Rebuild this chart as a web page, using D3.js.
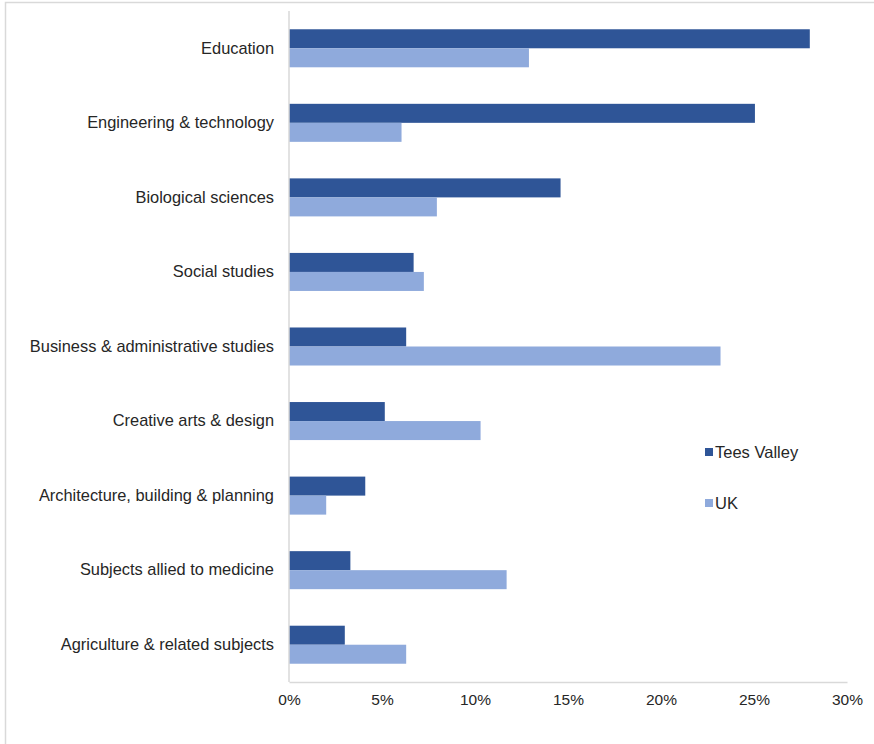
<!DOCTYPE html>
<html>
<head>
<meta charset="utf-8">
<script src="https://cdn.jsdelivr.net/npm/d3@7"></script>
<style>
  html, body { margin: 0; padding: 0; background: #fff; }
  svg { display: block; font-family: "Liberation Sans", Arial, sans-serif; }
</style>
</head>
<body>
<svg id="chart" width="874" height="744"></svg>
<script>
// Subject areas, top to bottom
const categories = [
  "Education",
  "Engineering & technology",
  "Biological sciences",
  "Social studies",
  "Business & administrative studies",
  "Creative arts & design",
  "Architecture, building & planning",
  "Subjects allied to medicine",
  "Agriculture & related subjects"
];
// Share of students (%) by subject
const teesValley = [28.0, 25.05, 14.6, 6.7, 6.3, 5.15, 4.1, 3.3, 3.0];
const uk = [12.9, 6.05, 7.95, 7.25, 23.2, 10.3, 2.0, 11.7, 6.3];
const seriesNames = ["Tees Valley", "UK"];
const xTicks = [0, 5, 10, 15, 20, 25, 30];

const colors = ["#2F5597", "#8FAADC"];
const textColor = "#262626";
const gridColor = "#D9D9D9";

const svg = d3.select("#chart");
const margin = { left: 289, right: 27, top: 11, bottom: 62 };
const W = 874, H = 744;

// Outer chart frame
svg.append("rect")
  .attr("x", 5.5).attr("y", 2.5)
  .attr("width", 880).attr("height", 760)
  .attr("fill", "none").attr("stroke", gridColor).attr("stroke-width", 1.5);

const x = d3.scaleLinear().domain([0, 30]).range([margin.left, W - margin.right]);
const y = d3.scaleBand().domain(categories)
  .range([margin.top, H - margin.bottom])
  .paddingInner(0.49).paddingOuter(0.245);
const ySub = d3.scaleBand().domain(seriesNames).range([0, y.bandwidth()]);

const rows = categories.map((c, i) => ({ cat: c, vals: [teesValley[i], uk[i]] }));

const g = svg.append("g");
rows.forEach(r => {
  r.vals.forEach((v, j) => {
    g.append("rect")
      .attr("x", x(0))
      .attr("y", y(r.cat) + ySub(seriesNames[j]))
      .attr("width", x(v) - x(0))
      .attr("height", ySub.bandwidth())
      .attr("fill", colors[j]);
  });
});

// Axis lines
svg.append("line")
  .attr("x1", x(0)).attr("x2", x(0))
  .attr("y1", margin.top).attr("y2", H - margin.bottom)
  .attr("stroke", gridColor).attr("stroke-width", 1.5);

const xAxis = d3.axisBottom(x).tickValues(xTicks).tickSize(0).tickPadding(12)
  .tickFormat(d => d + "%");
const ax = svg.append("g")
  .attr("transform", `translate(0,${H - margin.bottom})`)
  .call(xAxis);
ax.select(".domain").attr("stroke", gridColor).attr("stroke-width", 1.5);
ax.selectAll("text").attr("fill", textColor).style("font-size", "15.5px")
  .style("font-family", "'Liberation Sans', Arial, sans-serif");

// Category labels
const yAxis = d3.axisLeft(y).tickSize(0).tickPadding(15);
const ay = svg.append("g").attr("transform", `translate(${x(0)},0)`).call(yAxis);
ay.select(".domain").remove();
ay.selectAll("text").attr("fill", textColor).style("font-size", "16.4px")
  .style("font-family", "'Liberation Sans', Arial, sans-serif");

// Legend
const legend = svg.append("g").attr("transform", "translate(705,452)");
seriesNames.forEach((s, i) => {
  const lg = legend.append("g").attr("transform", `translate(0,${i * 51})`);
  lg.append("rect").attr("x", 0).attr("y", -4).attr("width", 8).attr("height", 8).attr("fill", colors[i]);
  lg.append("text").attr("x", 10).attr("y", 0).attr("dy", "0.35em")
    .attr("fill", textColor).style("font-size", "16.5px").text(s);
});
</script>
</body>
</html>
